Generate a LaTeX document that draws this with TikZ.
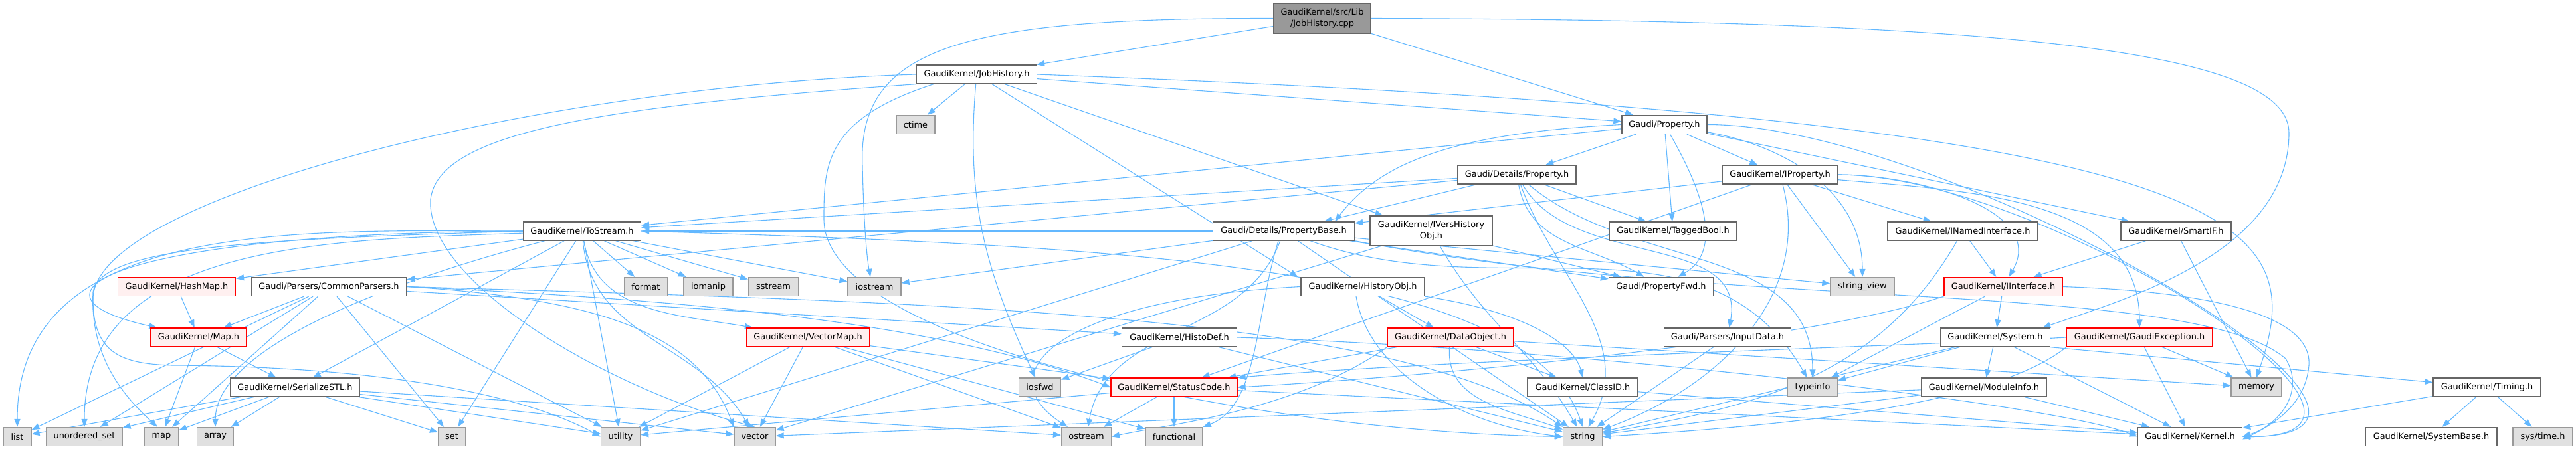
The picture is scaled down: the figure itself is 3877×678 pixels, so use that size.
\documentclass[tikz,border=0pt]{standalone}
\usepackage{fontspec}
\setmainfont{DejaVu Sans}
\usetikzlibrary{arrows.meta}
\definecolor{linkblue}{HTML}{63B8FF}
\definecolor{boxgrey}{HTML}{666666}
\definecolor{sysgrey}{HTML}{999999}
\definecolor{sysfill}{HTML}{E0E0E0}
\definecolor{redfill}{HTML}{FFF0F0}
\tikzset{
    every node/.style={rectangle, draw=boxgrey, fill=white, line width=1.3pt,
    	minimum height=28pt, inner sep=0pt, align=center,
    	font=\fontsize{12.9}{16.5}\selectfont}
}
\tikzset{
    sysinc/.style={fill=sysfill, draw=sysgrey},
    redinc/.style={fill=redfill, draw=red},
    rootfile/.style={fill=sysgrey, draw=boxgrey, minimum height=45pt},
    dep/.style={draw=linkblue, line width=1.1pt, -{Triangle[length=12pt,width=9pt]}}
}
\tikzset{
    every edge/.append style={dep}
}
\pgfdeclarelayer{background}
\pgfsetlayers{background,main}

\begin{document}
\begin{tikzpicture}[x=1pt, y=-1pt]
	\useasboundingbox (0,0) rectangle (3877,678);
	% rank 0 - 2
	\node (cpp) [rootfile, minimum width=146pt] at (1990,27.5) {GaudiKernel/src/Lib\\/JobHistory.cpp};
	\node (jobh) [minimum width=181pt] at (1470,112) {GaudiKernel/JobHistory.h};
	\node (ctime) [sysinc, minimum width=58pt] at (1378,187.5) {ctime};
	\node (propH) [minimum width=128pt] at (2505,187.5) {Gaudi/Property.h};
	% rank 3 - 4
	\node (detailsP) [minimum width=178pt] at (2283,263) {Gaudi/Details/Property.h};
	\node (iprop) [minimum width=174pt] at (2679,263) {GaudiKernel/IProperty.h};
	\node (tostream) [minimum width=177pt] at (876,348) {GaudiKernel/ToStream.h};
	\node (propBase) [minimum width=213pt] at (1932,348) {Gaudi/Details/PropertyBase.h};
	\node (iversh) [minimum width=184pt, minimum height=45pt] at (2154,347.5) {GaudiKernel/IVersHistory\\Obj.h};
	\node (tagged) [minimum width=191pt] at (2518,348) {GaudiKernel/TaggedBool.h};
	\node (inamed) [minimum width=226pt] at (2954,348) {GaudiKernel/INamedInterface.h};
	\node (smartif) [minimum width=166pt] at (3275,348) {GaudiKernel/SmartIF.h};
	% rank 5
	\node (hashmap) [redinc, minimum width=177pt] at (266,431.5) {GaudiKernel/HashMap.h};
	\node (commonP) [minimum width=233pt] at (495,431.5) {Gaudi/Parsers/CommonParsers.h};
	\node (format) [sysinc, minimum width=65pt] at (972,431.5) {format};
	\node (iomanip) [sysinc, minimum width=74pt] at (1066,431.5) {iomanip};
	\node (sstream) [sysinc, minimum width=75pt] at (1164,431.5) {sstream};
	\node (iostream) [sysinc, minimum width=80pt] at (1316,431.5) {iostream};
	\node (histObj) [minimum width=186pt] at (2051,431.5) {GaudiKernel/HistoryObj.h};
	\node (propFwd) [minimum width=157pt] at (2500,431.5) {Gaudi/PropertyFwd.h};
	\node (strview) [sysinc, minimum width=96pt] at (2803,431.5) {string\_view};
	\node (iiface) [redinc, minimum width=178pt] at (3015,431.5) {GaudiKernel/IInterface.h};
	% rank 6
	\node (mapH) [redinc, minimum width=144pt] at (299,508) {GaudiKernel/Map.h};
	\node (vecMap) [redinc, minimum width=185pt] at (1216,508) {GaudiKernel/VectorMap.h};
	\node (histoDef) [minimum width=173pt] at (1775,508) {GaudiKernel/HistoDef.h};
	\node (dataObj) [redinc, minimum width=190pt] at (2183,508) {GaudiKernel/DataObject.h};
	\node (inputData) [minimum width=191pt] at (2600,508) {Gaudi/Parsers/InputData.h};
	\node (system) [minimum width=165pt] at (3003,508) {GaudiKernel/System.h};
	\node (gexcept) [redinc, minimum width=219pt] at (3220,508) {GaudiKernel/GaudiException.h};
	% rank 7
	\node (serial) [minimum width=195pt] at (444,583) {GaudiKernel/SerializeSTL.h};
	\node (iosfwd) [sysinc, minimum width=63pt] at (1565,583) {iosfwd};
	\node (status) [redinc, minimum width=190pt] at (1767,583) {GaudiKernel/StatusCode.h};
	\node (classID) [minimum width=166pt] at (2382,583) {GaudiKernel/ClassID.h};
	\node (typeinfo) [sysinc, minimum width=75pt] at (2728,583) {typeinfo};
	\node (modInfo) [minimum width=189pt] at (2986,583) {GaudiKernel/ModuleInfo.h};
	\node (memory) [sysinc, minimum width=76pt] at (3396,583) {memory};
	\node (timing) [minimum width=162pt] at (3743,583) {GaudiKernel/Timing.h};
	% rank 8
	\node (list) [sysinc, minimum width=42pt] at (26,657.5) {list};
	\node (uset) [sysinc, minimum width=114pt] at (127,657.5) {unordered\_set};
	\node (map) [sysinc, minimum width=51pt] at (243,657.5) {map};
	\node (array) [sysinc, minimum width=55pt] at (324,657.5) {array};
	\node (set) [sysinc, minimum width=41pt] at (680,657.5) {set};
	\node (utility) [sysinc, minimum width=59pt] at (934,657.5) {utility};
	\node (vector) [sysinc, minimum width=62pt] at (1136,657.5) {vector};
	\node (ostream) [sysinc, minimum width=75pt] at (1635,657.5) {ostream};
	\node (functional) [sysinc, minimum width=86pt] at (1767,657.5) {functional};
	\node (string) [sysinc, minimum width=59pt] at (2382,657.5) {string};
	\node (kernel) [minimum width=157pt] at (3296,657.5) {GaudiKernel/Kernel.h};
	\node (sysBase) [minimum width=198pt] at (3659,657.5) {GaudiKernel/SystemBase.h};
	\node (sysTime) [sysinc, minimum width=90pt] at (3827,657.5) {sys/time.h};

	\begin{pgfonlayer}{background}
	% source file
	\path (cpp) edge (jobh)
		edge (propH);
	\draw[dep] (cpp.west) .. controls (1450,27) and (1290,70) .. (1298,250)
		.. controls (1300,340) and (1305,390) .. ([xshift=-6pt]iostream.north);
	\draw[dep] (cpp.east) .. controls (3050,30) and (3445,80) .. (3445,200)
		.. controls (3445,380) and (3200,450) .. ([xshift=-12pt]system.north east);
	% JobHistory.h
	\path (jobh) edge (propH)
		edge ([xshift=-4pt]histObj.north west)
		edge ([xshift=20pt]iversh.north west)
		edge (ctime)
		edge[out=-95, in=115] (iosfwd);
	\draw[dep] ([xshift=-65pt]jobh.south) .. controls (1240,180) and (1240,250) .. (1240,330)
		.. controls (1240,520) and (1900,650) .. (string.west);
	\draw[dep] (jobh.south west) .. controls (900,160) and (660,200) .. (648,300)
		.. controls (640,420) and (900,580) .. (vector.north);
	\draw[dep] (jobh.east) .. controls (3400,180) and (3480,330) .. (memory.north);
	\draw[dep] (jobh.west) .. controls (800,130) and (140,300) .. (140,450)
		.. controls (140,530) and (180,548) .. (260,550)
		.. controls (600,552) and (800,600) .. (utility.west);
	% Property.h
	\path (propH) edge (detailsP)
		edge (iprop)
		edge (tagged)
		edge[out=-60, in=30] (propFwd)
		edge (tostream)
		edge[out=-10, in=90] (strview)
		edge (smartif)
		edge[out=0, in=0] (kernel);
	\draw[dep] (propH.west) .. controls (2200,200) and (2080,240) .. ([xshift=-30pt]propBase.north east);
	% Details/Property.h
	\path (detailsP) edge (propBase)
		edge (commonP)
		edge (tostream)
		edge (tagged)
		edge[out=-80, in=150] (propFwd)
		edge[out=-60, in=80] (inputData)
		edge[out=-70, in=60] (string)
		edge[out=-40, in=90] (typeinfo);
	% IProperty.h
	\path (iprop) edge (propBase)
		edge (inamed)
		edge[out=0, in=60] (iiface)
		edge[out=-5, in=90] (gexcept)
		edge (strview)
		edge[out=-75, in=20] (string)
		edge (status)
		edge[out=0, in=0, looseness=1.1] (kernel);
	% PropertyBase.h
	\path (propBase) edge (tostream)
		edge (propFwd)
		edge (strview)
		edge[out=-20, in=120] (typeinfo)
		edge[out=-110, in=80] (ostream)
		edge (iostream)
		edge (string)
		edge (utility);
	\draw[dep] ([xshift=-8pt]propBase.south) .. controls (1890,470) and (1895,610) .. (functional.north east);
	\draw[dep] (propBase.south east) .. controls (2600,470) and (3300,420) .. (3440,540)
		.. controls (3470,590) and (3430,640) .. (kernel.east);
	% ToStream.h
	\path (tostream) edge (hashmap)
		edge (serial)
		edge[out=-80, in=170] (vecMap)
		edge (format)
		edge (iomanip)
		edge (sstream)
		edge (iostream)
		edge[out=180, in=90] (list)
		edge[out=182, in=90] (uset)
		edge (set)
		edge[out=-85, in=120] (vector)
		edge (utility);
	\draw[dep] (tostream.west) .. controls (200,350) and (0,440) .. ([xshift=10pt]mapH.north west);
	\draw[dep] (tostream.west) .. controls (400,360) and (150,370) .. (140,440)
		.. controls (135,540) and (190,600) .. ([xshift=-6pt]map.north);
	\draw[dep] (tostream) .. controls (600,420) and (325,520) .. (array.north);
	\draw[dep] (tostream.east) .. controls (1700,370) and (2300,400) .. (string.north);
	% IVersHistoryObj.h and HistoryObj.h
	\path (iversh) edge (propFwd) edge[out=-60, in=120] (string) edge (vector);
	\path (histObj) edge (dataObj);
	\draw[dep] (histObj.west) .. controls (1600,450) and (1480,560) .. ([xshift=10pt]ostream.north west);
	\draw[dep] ([xshift=-10pt]histObj.south) .. controls (2060,560) and (2200,640) .. (string.west);
	\draw[dep] (histObj.south east) .. controls (2300,470) and (2370,520) .. (classID.north);
	% interfaces
	\path (inamed) edge (iiface) edge[out=-120, in=10] (string);
	\path (smartif) edge (iiface) edge (memory);
	\path (iiface) edge (system) edge (typeinfo);
	\draw[dep] (iiface.south west) .. controls (2700,520) and (2100,570) .. (status.east);
	\draw[dep] (iiface.east) .. controls (3350,440) and (3480,480) .. (3475,550)
		.. controls (3470,610) and (3420,640) .. ([yshift=-4pt]kernel.east);
	% parsers and maps
	\path (hashmap) edge (mapH);
	\path (commonP) edge (mapH) edge (histoDef) edge (list)
		edge (uset) edge (map) edge (set) edge (utility);
	\draw[dep] (commonP.east) .. controls (1000,450) and (1400,480) .. (status.west);
	\draw[dep] (commonP.east) .. controls (900,450) and (1050,500) .. (vector.north west);
	\draw[dep] (commonP.east) .. controls (1400,455) and (2100,470) .. (string.north west);
	\path (mapH) edge (map) edge (serial);
	\path (vecMap) edge (utility) edge (vector) edge (ostream) edge (functional) edge (status);
	\path (serial) edge (list) edge (uset) edge (map) edge (array) edge (set)
		edge (utility) edge (vector) edge (ostream);
	% lower headers
	\path (histoDef) edge (iosfwd) edge (string);
	\draw[dep] (histoDef.east) .. controls (2400,525) and (3100,610) .. (kernel.west);
	\path (dataObj) edge (classID) edge (status) edge (memory)
		edge[out=-95, in=160] (string);
	\draw[dep] (dataObj.south west) .. controls (1950,620) and (1750,640) .. (ostream.east);
	\path (inputData) edge (string);
	\path (system) edge (modInfo) edge (kernel) edge (string) edge (typeinfo);
	\path (system.south east) edge (timing);
	\path (gexcept) edge (kernel) edge (memory);
	\draw[dep] (gexcept.west) .. controls (2900,520) and (2200,540) .. (status.north east);
	\draw[dep] (gexcept.south west) .. controls (3000,610) and (2700,640) .. (string.east);
	\path (status) edge (functional) edge (ostream) edge (utility) edge (kernel);
	\path (classID) edge (kernel);
	\path (modInfo) edge (kernel) edge (string) edge (vector);
	\path (timing) edge (sysBase) edge (sysTime) edge (kernel);
	\end{pgfonlayer}
\end{tikzpicture}
\end{document}
